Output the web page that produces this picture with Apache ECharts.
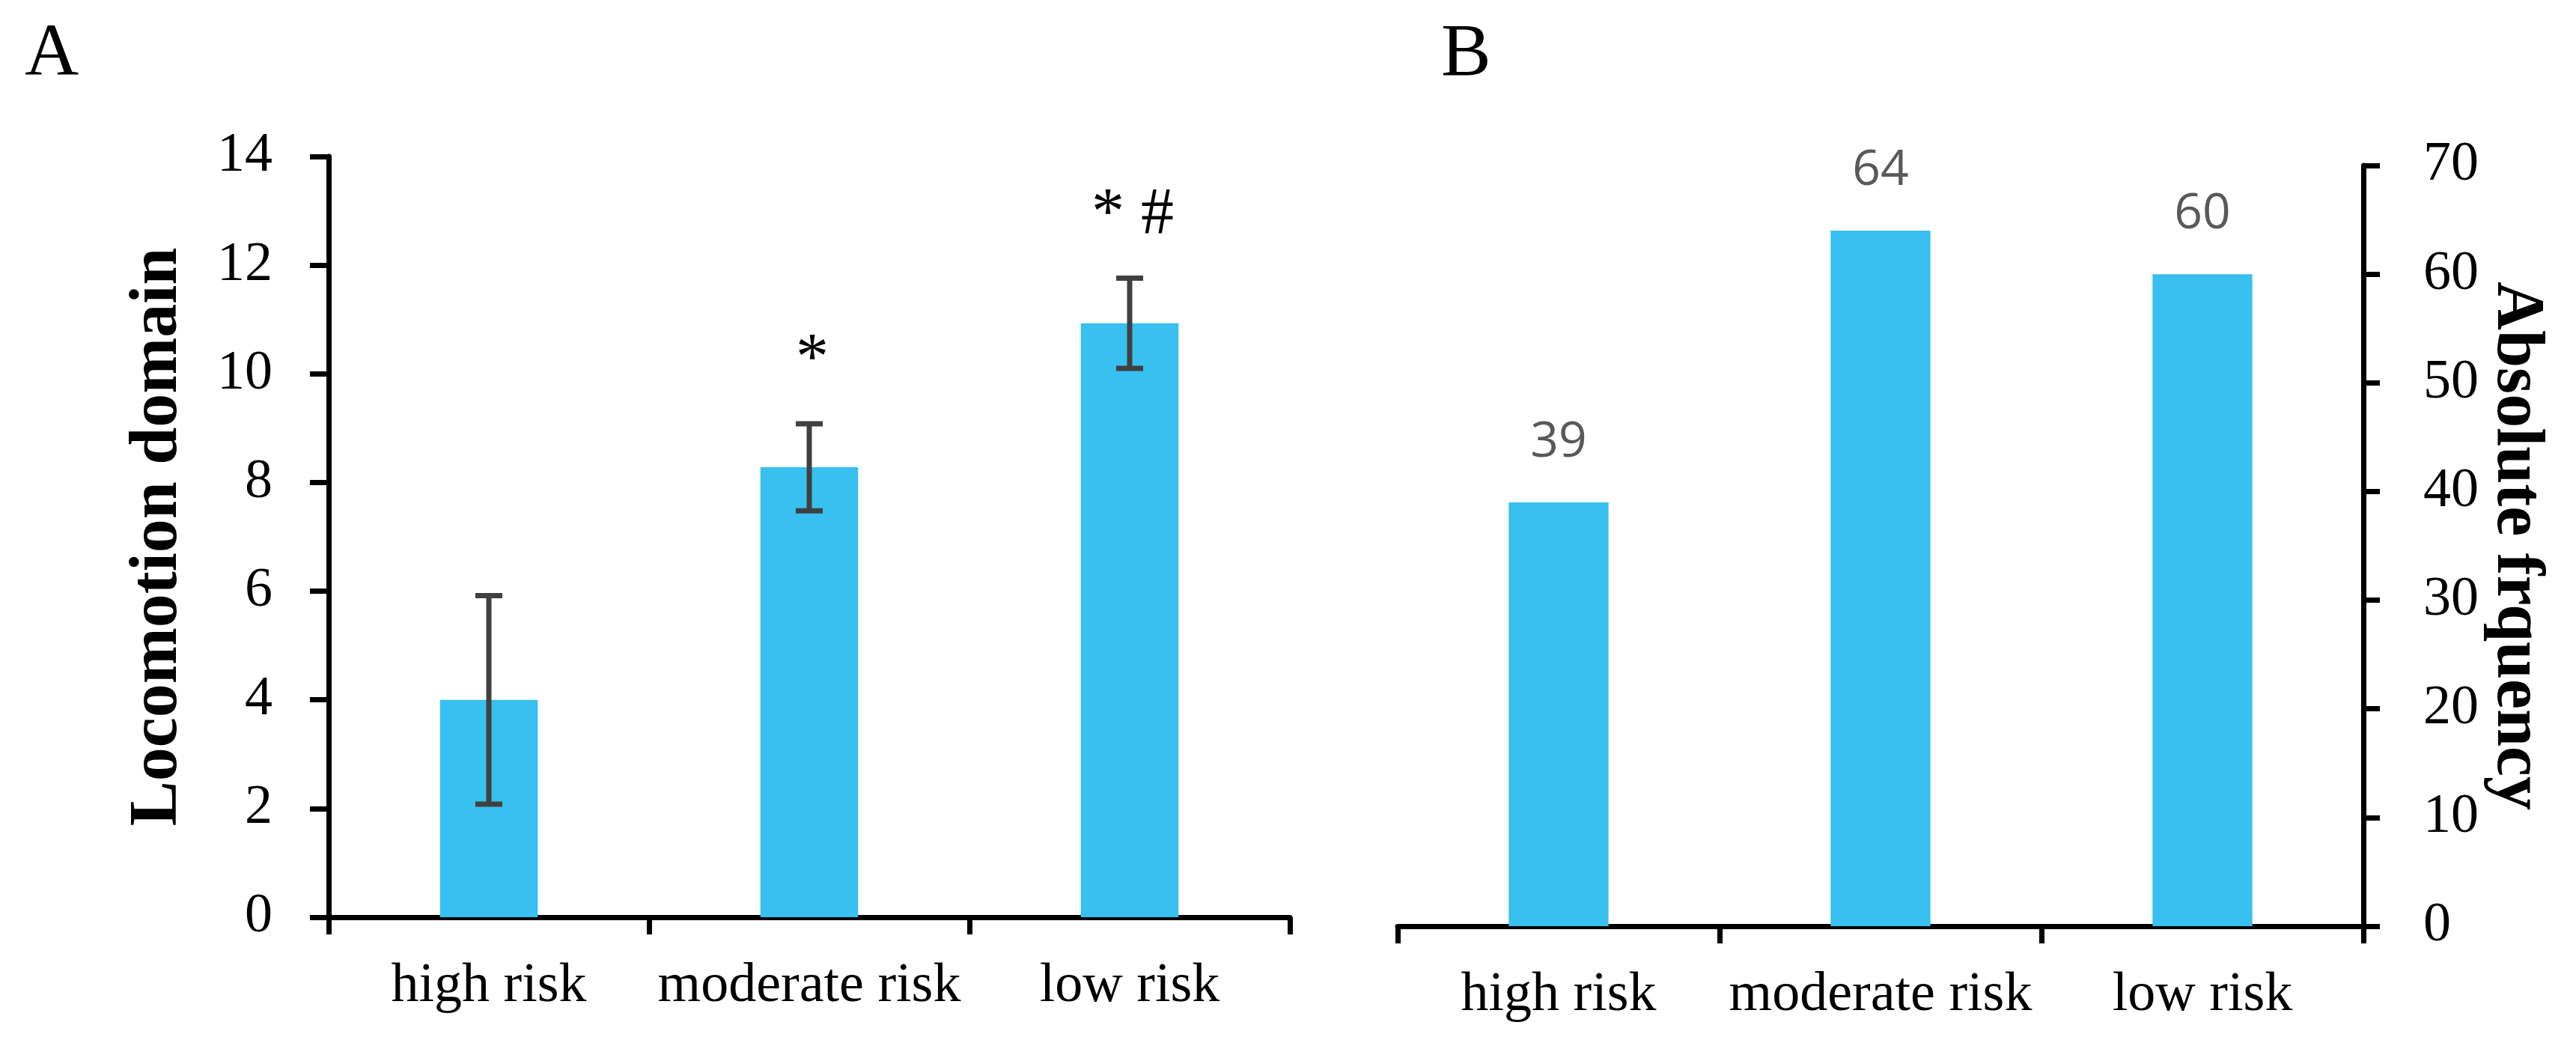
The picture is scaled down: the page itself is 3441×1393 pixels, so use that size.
<!DOCTYPE html>
<html>
<head>
<meta charset="utf-8">
<script src="https://cdn.jsdelivr.net/npm/echarts@6/dist/echarts.min.js"></script>
<style>
html,body{margin:0;padding:0;background:#fff;}
#chart{width:3441px;height:1393px;}
</style>
</head>
<body>
<div id="chart"></div>
<script>
// ---- data ----
const categories = ['high risk', 'moderate risk', 'low risk'];
const locomotionMean = [4.0, 8.28, 10.93];
const locomotionSD = [1.92, 0.80, 0.83];
const significance = ['', '*', '* #'];
const frequency = [39, 64, 60];
const yTicksA = { min: 0, max: 14, interval: 2 };
const yTicksB = { min: 0, max: 70, interval: 10 };

// ---- styles ----
const BAR = '#37C0F0';
const SERIF = 'Liberation Serif';
const axisLineStyle = { color: '#000', width: 7 };

const errData = categories.map((c, i) => [i, locomotionMean[i] - locomotionSD[i], locomotionMean[i] + locomotionSD[i]]);

const chart = echarts.init(document.getElementById('chart'), null, { renderer: 'canvas' });

function catAxis(gi) {
  return {
    type: 'category', gridIndex: gi, data: categories,
    axisLine: { show: true, lineStyle: axisLineStyle },
    axisTick: { show: true, interval: 0, length: 23, lineStyle: { color: '#000', width: 7 } },
    axisLabel: { interval: 0, margin: 56, fontSize: 74, fontFamily: SERIF, color: '#000' },
    splitLine: { show: false }
  };
}

chart.setOption({
  animation: false,
  backgroundColor: '#fff',
  title: [
    { text: 'A', left: 28, top: 19, textStyle: { fontFamily: SERIF, fontWeight: 'normal', fontSize: 100, color: '#000' } },
    { text: 'B', left: 1920, top: 19, textStyle: { fontFamily: SERIF, fontWeight: 'normal', fontSize: 100, color: '#000' } }
  ],
  grid: [
    { left: 439, top: 209, width: 1284, height: 1016, containLabel: false },
    { left: 1867, top: 221, width: 1290, height: 1016, containLabel: false }
  ],
  xAxis: [catAxis(0), catAxis(1)],
  yAxis: [
    {
      type: 'value', gridIndex: 0, min: yTicksA.min, max: yTicksA.max, interval: yTicksA.interval,
      axisLine: { show: true, lineStyle: axisLineStyle },
      axisTick: { show: true, length: 25, lineStyle: { color: '#000', width: 7 } },
      axisLabel: { margin: 75, fontSize: 74, fontFamily: SERIF, color: '#000' },
      splitLine: { show: false },
      name: 'Locomotion domain', nameLocation: 'middle', nameGap: 182, nameRotate: 90,
      nameTextStyle: { fontFamily: SERIF, fontWeight: 'bold', fontSize: 90, color: '#000' }
    },
    {
      type: 'value', gridIndex: 1, position: 'right', min: yTicksB.min, max: yTicksB.max, interval: yTicksB.interval,
      axisLine: { show: true, lineStyle: axisLineStyle },
      axisTick: { show: true, length: 22, lineStyle: { color: '#000', width: 7 } },
      axisLabel: { margin: 80, fontSize: 74, fontFamily: SERIF, color: '#000' },
      splitLine: { show: false },
      name: 'Absolute frquency', nameLocation: 'middle', nameGap: 152, nameRotate: -90,
      nameTextStyle: { fontFamily: SERIF, fontWeight: 'bold', fontSize: 90, color: '#000' }
    }
  ],
  series: [
    {
      type: 'bar', xAxisIndex: 0, yAxisIndex: 0, data: locomotionMean,
      barWidth: '30.5%', itemStyle: { color: BAR }, z: 2
    },
    {
      type: 'custom', xAxisIndex: 0, yAxisIndex: 0, data: errData, z: 5,
      renderItem: function (params, api) {
        const lo = api.coord([api.value(0), api.value(1)]);
        const hi = api.coord([api.value(0), api.value(2)]);
        const hw = 18;
        const st = { stroke: '#404040', lineWidth: 7 };
        const children = [
          { type: 'line', shape: { x1: lo[0], y1: lo[1], x2: hi[0], y2: hi[1] }, style: st },
          { type: 'line', shape: { x1: hi[0] - hw, y1: hi[1], x2: hi[0] + hw, y2: hi[1] }, style: st },
          { type: 'line', shape: { x1: lo[0] - hw, y1: lo[1], x2: lo[0] + hw, y2: lo[1] }, style: st }
        ];
        const sig = significance[params.dataIndex];
        if (sig) {
          children.push({
            type: 'text', x: hi[0] + 4, y: hi[1] - 40,
            style: { text: sig, fontFamily: SERIF, fontSize: 88, fill: '#000', textAlign: 'center', textVerticalAlign: 'bottom' }
          });
        }
        return { type: 'group', children: children };
      }
    },
    {
      type: 'bar', xAxisIndex: 1, yAxisIndex: 1, data: frequency,
      barWidth: '31%', itemStyle: { color: BAR },
      label: { show: true, position: 'top', distance: 47, fontFamily: 'Open Sans', fontSize: 66, color: '#595959' }
    }
  ]
});
</script>
</body>
</html>
